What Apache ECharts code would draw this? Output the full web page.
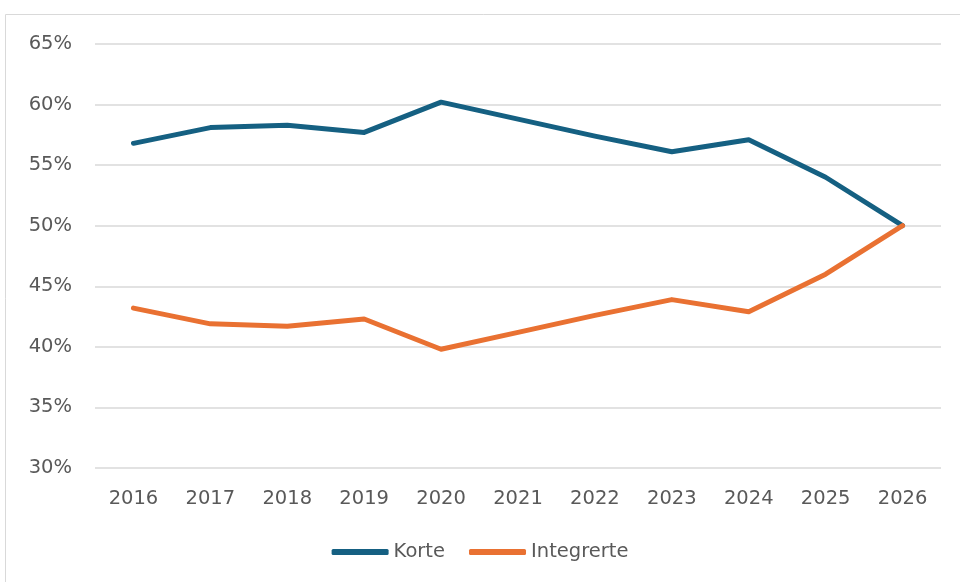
<!DOCTYPE html>
<html><head><meta charset="utf-8">
<script src="https://cdn.jsdelivr.net/npm/echarts@6/dist/echarts.min.js"></script>
<style>html,body{margin:0;padding:0;background:#fff}#c{width:960px;height:582px}</style>
</head><body><div id="c"></div>
<script>
const years = ['2016','2017','2018','2019','2020','2021','2022','2023','2024','2025','2026'];
const korte = [56.8, 58.1, 58.3, 57.7, 60.2, 58.8, 57.4, 56.1, 57.1, 54.0, 50.0];
const integrerte = [43.2, 41.9, 41.7, 42.3, 39.8, 41.2, 42.6, 43.9, 42.9, 46.0, 50.0];
const font = 'DejaVu Sans, sans-serif';
const chart = echarts.init(document.getElementById('c'));
chart.setOption({
  animation: false,
  graphic: [{type:'rect', shape:{x:5.5,y:14.5,width:1100,height:1000}, style:{fill:'none', stroke:'#d9d9d9', lineWidth:1}, silent:true, z:-1}],
  grid: {left:95, right:19, top:44, bottom:114},
  legend: {
    top: 537, left: 'center', itemGap: 24, itemWidth: 57, itemHeight: 6,
    icon: 'roundRect',
    textStyle: {fontFamily: font, fontSize: 19.5, color: '#595959'},
    data: ['Korte', 'Integrerte']
  },
  xAxis: {
    type: 'category', data: years, boundaryGap: true,
    axisLine: {show:false}, axisTick: {show:false},
    axisLabel: {fontFamily: font, fontSize: 19.5, color: '#595959', margin: 21}
  },
  yAxis: {
    type: 'value', min: 30, max: 65, interval: 5,
    axisLine: {show:false}, axisTick: {show:false},
    splitLine: {lineStyle: {color:'#d9d9d9', width:1.5}},
    axisLabel: {fontFamily: font, fontSize: 19.5, color: '#595959', margin: 23, formatter: v => v + '%'}
  },
  series: [
    {name:'Korte', type:'line', data: korte, symbol:'none', lineStyle:{color:'#156082', width:5, cap:'round', join:'round'}, itemStyle:{color:'#156082'}},
    {name:'Integrerte', type:'line', data: integrerte, symbol:'none', lineStyle:{color:'#E97132', width:5, cap:'round', join:'round'}, itemStyle:{color:'#E97132'}}
  ]
});
</script></body></html>
